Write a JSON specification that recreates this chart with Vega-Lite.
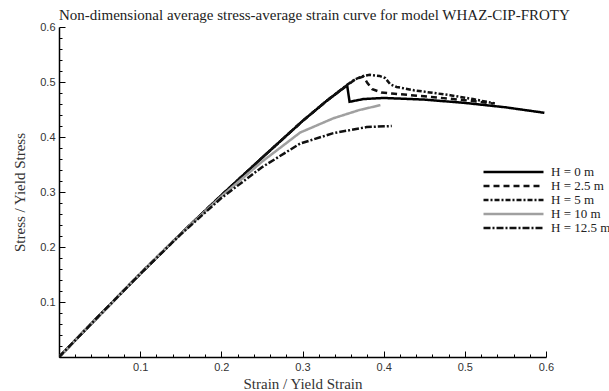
{
  "$schema": "https://vega.github.io/schema/vega-lite/v6.json",
  "width": 487,
  "height": 330,
  "autosize": "none",
  "padding": {"left": 59, "top": 27, "right": 63, "bottom": 34},
  "background": "white",
  "title": {
    "text": "Non-dimensional average stress-average strain curve for model WHAZ-CIP-FROTY",
    "font": "Liberation Serif",
    "fontSize": 15,
    "fontWeight": "normal",
    "color": "#222222",
    "anchor": "start",
    "frame": "group",
    "baseline": "alphabetic",
    "offset": 0,
    "dy": 14
  },
  "config": {
    "view": {"stroke": null},
    "axis": {
      "grid": false,
      "domainColor": "#000000",
      "domainWidth": 1.5,
      "tickColor": "#000000",
      "tickWidth": 1,
      "labelFont": "Liberation Sans",
      "labelFontSize": 11,
      "labelColor": "#333333",
      "titleFont": "Liberation Serif",
      "titleFontSize": 15,
      "titleFontWeight": "normal",
      "titleColor": "#333333"
    }
  },
  "data": {
    "values": [
      {"s": "H = 0 m", "x": 0, "y": 0},
      {"s": "H = 0 m", "x": 0.05, "y": 0.076},
      {"s": "H = 0 m", "x": 0.1, "y": 0.151},
      {"s": "H = 0 m", "x": 0.15, "y": 0.224},
      {"s": "H = 0 m", "x": 0.2, "y": 0.294},
      {"s": "H = 0 m", "x": 0.25, "y": 0.362},
      {"s": "H = 0 m", "x": 0.3, "y": 0.429},
      {"s": "H = 0 m", "x": 0.33, "y": 0.466},
      {"s": "H = 0 m", "x": 0.355, "y": 0.494},
      {"s": "H = 0 m", "x": 0.358, "y": 0.464},
      {"s": "H = 0 m", "x": 0.375, "y": 0.469},
      {"s": "H = 0 m", "x": 0.4, "y": 0.471},
      {"s": "H = 0 m", "x": 0.45, "y": 0.468},
      {"s": "H = 0 m", "x": 0.5, "y": 0.462},
      {"s": "H = 0 m", "x": 0.55, "y": 0.454},
      {"s": "H = 0 m", "x": 0.598, "y": 0.444},

      {"s": "H = 2.5 m", "x": 0, "y": 0},
      {"s": "H = 2.5 m", "x": 0.05, "y": 0.076},
      {"s": "H = 2.5 m", "x": 0.1, "y": 0.151},
      {"s": "H = 2.5 m", "x": 0.15, "y": 0.224},
      {"s": "H = 2.5 m", "x": 0.2, "y": 0.294},
      {"s": "H = 2.5 m", "x": 0.25, "y": 0.362},
      {"s": "H = 2.5 m", "x": 0.3, "y": 0.429},
      {"s": "H = 2.5 m", "x": 0.33, "y": 0.466},
      {"s": "H = 2.5 m", "x": 0.355, "y": 0.494},
      {"s": "H = 2.5 m", "x": 0.365, "y": 0.505},
      {"s": "H = 2.5 m", "x": 0.375, "y": 0.51},
      {"s": "H = 2.5 m", "x": 0.38, "y": 0.498},
      {"s": "H = 2.5 m", "x": 0.386, "y": 0.487},
      {"s": "H = 2.5 m", "x": 0.397, "y": 0.481},
      {"s": "H = 2.5 m", "x": 0.41, "y": 0.479},
      {"s": "H = 2.5 m", "x": 0.45, "y": 0.474},
      {"s": "H = 2.5 m", "x": 0.5, "y": 0.467},
      {"s": "H = 2.5 m", "x": 0.535, "y": 0.461},

      {"s": "H = 5 m", "x": 0, "y": 0},
      {"s": "H = 5 m", "x": 0.05, "y": 0.076},
      {"s": "H = 5 m", "x": 0.1, "y": 0.151},
      {"s": "H = 5 m", "x": 0.15, "y": 0.224},
      {"s": "H = 5 m", "x": 0.2, "y": 0.294},
      {"s": "H = 5 m", "x": 0.25, "y": 0.362},
      {"s": "H = 5 m", "x": 0.3, "y": 0.429},
      {"s": "H = 5 m", "x": 0.33, "y": 0.466},
      {"s": "H = 5 m", "x": 0.355, "y": 0.495},
      {"s": "H = 5 m", "x": 0.365, "y": 0.505},
      {"s": "H = 5 m", "x": 0.375, "y": 0.511},
      {"s": "H = 5 m", "x": 0.383, "y": 0.513},
      {"s": "H = 5 m", "x": 0.395, "y": 0.511},
      {"s": "H = 5 m", "x": 0.402, "y": 0.507},
      {"s": "H = 5 m", "x": 0.408, "y": 0.496},
      {"s": "H = 5 m", "x": 0.416, "y": 0.491},
      {"s": "H = 5 m", "x": 0.437, "y": 0.485},
      {"s": "H = 5 m", "x": 0.457, "y": 0.481},
      {"s": "H = 5 m", "x": 0.482, "y": 0.476},
      {"s": "H = 5 m", "x": 0.51, "y": 0.469},
      {"s": "H = 5 m", "x": 0.537, "y": 0.461},

      {"s": "H = 10 m", "x": 0, "y": 0},
      {"s": "H = 10 m", "x": 0.05, "y": 0.076},
      {"s": "H = 10 m", "x": 0.1, "y": 0.151},
      {"s": "H = 10 m", "x": 0.15, "y": 0.224},
      {"s": "H = 10 m", "x": 0.2, "y": 0.292},
      {"s": "H = 10 m", "x": 0.25, "y": 0.355},
      {"s": "H = 10 m", "x": 0.297, "y": 0.408},
      {"s": "H = 10 m", "x": 0.338, "y": 0.434},
      {"s": "H = 10 m", "x": 0.37, "y": 0.449},
      {"s": "H = 10 m", "x": 0.396, "y": 0.458},

      {"s": "H = 12.5 m", "x": 0, "y": 0},
      {"s": "H = 12.5 m", "x": 0.05, "y": 0.076},
      {"s": "H = 12.5 m", "x": 0.1, "y": 0.151},
      {"s": "H = 12.5 m", "x": 0.15, "y": 0.223},
      {"s": "H = 12.5 m", "x": 0.2, "y": 0.289},
      {"s": "H = 12.5 m", "x": 0.25, "y": 0.345},
      {"s": "H = 12.5 m", "x": 0.297, "y": 0.388},
      {"s": "H = 12.5 m", "x": 0.338, "y": 0.407},
      {"s": "H = 12.5 m", "x": 0.379, "y": 0.418},
      {"s": "H = 12.5 m", "x": 0.41, "y": 0.42}
    ]
  },
  "mark": {"type": "line", "strokeWidth": 2.5, "clip": true},
  "encoding": {
    "x": {
      "field": "x",
      "type": "quantitative",
      "scale": {"domain": [0, 0.6], "nice": false, "zero": false},
      "axis": {
        "title": "Strain / Yield Strain",
        "titlePadding": 1,
        "values": [0, 0.02, 0.04, 0.06, 0.08, 0.1, 0.12, 0.14, 0.16, 0.18, 0.2, 0.22, 0.24, 0.26, 0.28, 0.3, 0.32, 0.34, 0.36, 0.38, 0.4, 0.42, 0.44, 0.46, 0.48, 0.5, 0.52, 0.54, 0.56, 0.58, 0.6],
        "labelExpr": "datum.value > 0.001 && abs(datum.value * 10 - round(datum.value * 10)) < 0.01 ? format(datum.value, '.1f') : ''",
        "tickSize": {"condition": {"test": "abs(datum.value * 10 - round(datum.value * 10)) < 0.01", "value": -6}, "value": -3},
        "labelPadding": 10,
        "labelFlush": false,
        "labelOverlap": false
      }
    },
    "y": {
      "field": "y",
      "type": "quantitative",
      "scale": {"domain": [0, 0.6], "nice": false, "zero": false},
      "axis": {
        "title": "Stress / Yield Stress",
        "titlePadding": 12,
        "values": [0, 0.02, 0.04, 0.06, 0.08, 0.1, 0.12, 0.14, 0.16, 0.18, 0.2, 0.22, 0.24, 0.26, 0.28, 0.3, 0.32, 0.34, 0.36, 0.38, 0.4, 0.42, 0.44, 0.46, 0.48, 0.5, 0.52, 0.54, 0.56, 0.58, 0.6],
        "labelExpr": "datum.value > 0.001 && abs(datum.value * 10 - round(datum.value * 10)) < 0.01 ? format(datum.value, '.1f') : ''",
        "tickSize": {"condition": {"test": "abs(datum.value * 10 - round(datum.value * 10)) < 0.01", "value": -6}, "value": -3},
        "labelPadding": 10,
        "labelFlush": false,
        "labelOverlap": false
      }
    },
    "color": {
      "field": "s",
      "type": "nominal",
      "scale": {
        "domain": ["H = 0 m", "H = 2.5 m", "H = 5 m", "H = 10 m", "H = 12.5 m"],
        "range": ["#000000", "#111111", "#111111", "#a0a0a0", "#111111"]
      },
      "legend": {
        "title": null,
        "orient": "none",
        "legendX": 423,
        "legendY": 138,
        "symbolType": "stroke",
        "symbolSize": 3600,
        "symbolStrokeWidth": 2.5,
        "clipHeight": 14,
        "rowPadding": 0,
        "labelFont": "Liberation Serif",
        "labelFontSize": 13,
        "labelColor": "#222222",
        "labelOffset": 6
      }
    },
    "strokeDash": {
      "field": "s",
      "type": "nominal",
      "scale": {
        "domain": ["H = 0 m", "H = 2.5 m", "H = 5 m", "H = 10 m", "H = 12.5 m"],
        "range": [[1, 0], [6, 4], [5, 2, 2, 2], [1, 0], [7, 2, 2, 2]]
      },
      "legend": {
        "title": null,
        "orient": "none",
        "legendX": 423,
        "legendY": 138,
        "symbolType": "stroke",
        "symbolSize": 3600,
        "symbolStrokeWidth": 2.5,
        "clipHeight": 14,
        "rowPadding": 0,
        "labelFont": "Liberation Serif",
        "labelFontSize": 13,
        "labelColor": "#222222",
        "labelOffset": 6
      }
    }
  }
}
